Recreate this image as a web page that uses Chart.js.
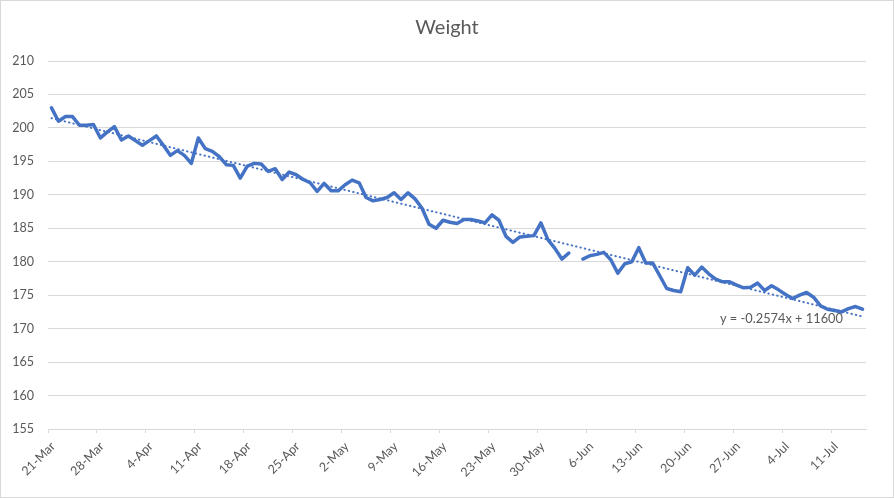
<!DOCTYPE html>
<html><head><meta charset="utf-8">
<script src="https://cdn.jsdelivr.net/npm/chart.js@4.4.0/dist/chart.umd.min.js"></script>
<style>
html,body{margin:0;padding:0;background:#fff;}
#wrap{position:relative;width:894px;height:498px;}
</style></head><body>
<div id="wrap"><canvas id="c" width="894" height="498"></canvas></div>
<script>
const chartTitle = 'Weight';
const trendLabel = 'y = -0.2574x + 11600';
const tickLabels = ['21-Mar','28-Mar','4-Apr','11-Apr','18-Apr','25-Apr','2-May','9-May','16-May','23-May','30-May','6-Jun','13-Jun','20-Jun','27-Jun','4-Jul','11-Jul'];
const tickEvery = 7;
const yMin = 155, yMax = 210, yStep = 5;
// daily weights starting 21-Mar (null = missing day)
const weights = [
  203.0, 201.0, 201.7, 201.7, 200.4, 200.4, 200.5, 198.5, 199.4, 200.2,
  198.2, 198.8, 198.1, 197.4, 198.1, 198.8, 197.4, 195.9, 196.6, 195.9,
  194.7, 198.5, 196.9, 196.5, 195.7, 194.5, 194.4, 192.5, 194.3, 194.7,
  194.6, 193.5, 193.9, 192.3, 193.4, 193.0, 192.3, 191.8, 190.5, 191.7,
  190.6, 190.6, 191.5, 192.2, 191.8, 189.6, 189.1, 189.3, 189.6, 190.3,
  189.3, 190.3, 189.4, 188.0, 185.6, 185.0, 186.2, 185.9, 185.7, 186.3,
  186.3, 186.1, 185.8, 187.0, 186.2, 183.8, 182.9, 183.7, 183.8, 183.9,
  185.8, 183.3, 182.0, 180.4, 181.3, null, 180.4, 180.9, 181.1, 181.4,
  180.3, 178.3, 179.7, 180.0, 182.1, 179.8, 179.8, 177.9, 176.0, 175.7,
  175.5, 179.1, 178.0, 179.2, 178.2, 177.4, 177.0, 177.0, 176.5, 176.1,
  176.2, 176.8, 175.7, 176.4, 175.8, 175.1, 174.5, 175.0, 175.4, 174.7,
  173.4, 172.9, 172.7, 172.5, 173.0, 173.3, 172.9
];

const points = weights.map((w, i) => ({x: i, y: w}));
let n = 0, sx = 0, sy = 0, sxx = 0, sxy = 0;
weights.forEach((w, i) => { if (w == null) return; n++; sx += i; sy += w; sxx += i * i; sxy += i * w; });
const slope = (n * sxy - sx * sy) / (n * sxx - sx * sx);
const icpt = (sy - slope * sx) / n;
const lastIdx = weights.length - 1;
const trend = [{x: 0, y: icpt}, {x: lastIdx, y: icpt + slope * lastIdx}];

const textPlugin = {
  id: 'txt',
  beforeDraw(chart) {
    const c = chart.ctx;
    c.save();
    c.fillStyle = '#fff';
    c.fillRect(0, 0, chart.width, chart.height);
    c.strokeStyle = '#d9d9d9';
    c.lineWidth = 1;
    c.strokeRect(0.5, 0.5, chart.width - 1, chart.height - 1);
    c.restore();
  },
  afterDraw(chart) {
    const c = chart.ctx;
    c.save();
    c.fillStyle = '#595959';
    c.font = '20px Lato';
    c.textAlign = 'center';
    c.textBaseline = 'middle';
    c.fillText(chartTitle, chart.width / 2, 28);
    c.font = '12.8px Lato';
    c.textAlign = 'left';
    c.fillText(trendLabel, 720, 319);
    c.restore();
  }
};

new Chart(document.getElementById('c'), {
  type: 'line',
  data: {datasets: [
    {data: points, borderColor: '#4472C4', borderWidth: 3.5, pointRadius: 0, tension: 0,
     spanGaps: false, borderJoinStyle: 'round', borderCapStyle: 'round', order: 1},
    {data: trend, borderColor: '#4472C4', borderWidth: 2, borderDash: [0.5, 4],
     borderCapStyle: 'round', pointRadius: 0, order: 0}
  ]},
  options: {
    responsive: false, animation: false, devicePixelRatio: 1,
    layout: {padding: {left: 0, right: 28, top: 61, bottom: 0}},
    plugins: {legend: {display: false}, tooltip: {enabled: false}, title: {display: false}},
    scales: {
      x: {
        type: 'linear', min: -0.5, max: lastIdx + 0.5,
        afterBuildTicks: s => { s.ticks = tickLabels.map((l, k) => ({value: k * tickEvery - 0.5})); },
        afterFit: s => { s.height = 69; },
        ticks: {autoSkip: false, maxRotation: 45, minRotation: 45, color: '#595959',
                font: {family: 'Lato', size: 12.5}, padding: 6, labelOffset: 5,
                callback: (v, i) => tickLabels[i]},
        grid: {drawOnChartArea: false, drawTicks: true, tickLength: 4, color: '#d9d9d9'},
        border: {display: true, color: '#d9d9d9'}
      },
      y: {
        min: yMin, max: yMax,
        afterFit: s => { s.width = 48; },
        ticks: {stepSize: yStep, color: '#595959', font: {family: 'Lato', size: 12.5}, padding: 14},
        grid: {drawTicks: false, color: '#d9d9d9'},
        border: {display: false}
      }
    }
  },
  plugins: [textPlugin]
});
</script>
</body></html>
